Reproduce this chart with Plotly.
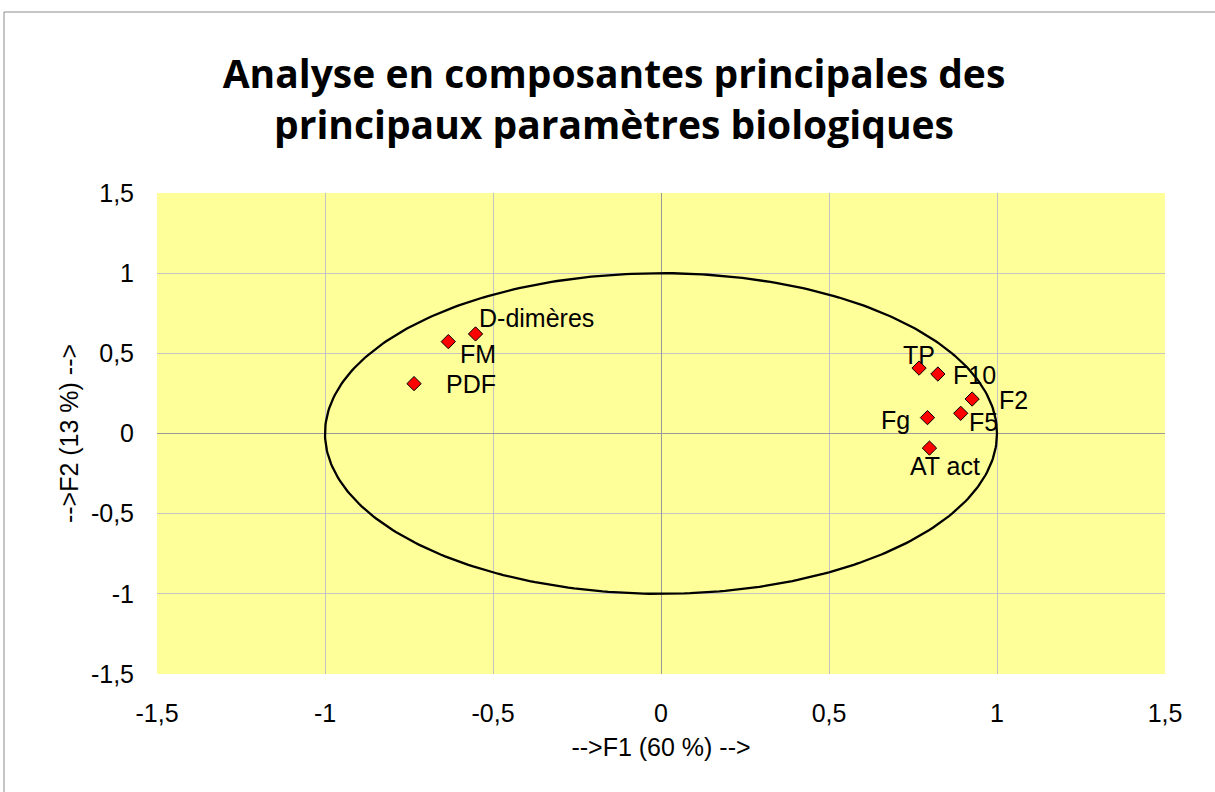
import numpy as np
import plotly.graph_objects as go

labels = ["D-dimères", "FM", "PDF", "TP", "F10", "F2", "F5", "Fg", "AT act"]
f1 = [-0.552, -0.633, -0.735, 0.768, 0.824, 0.926, 0.892, 0.793, 0.799]
f2 = [0.621, 0.573, 0.311, 0.408, 0.371, 0.215, 0.126, 0.099, -0.091]
tick_vals = [-1.5, -1, -0.5, 0, 0.5, 1, 1.5]
tick_text = ["-1,5", "-1", "-0,5", "0", "0,5", "1", "1,5"]

# label placement styling (pixel offsets from each marker)
label_style = [
    ("left", 1, 16), ("left", 10, -12), ("left", 30, 0), ("center", 0, 13),
    ("left", 13, -1), ("left", 25, -1), ("left", 6, -9), ("right", -15, -2),
    ("center", 16, -18),
]

FONT = "Liberation Sans, Arial, sans-serif"
W, H = 1215, 792
L, T, R, B = 157, 193, 50, 118

theta = np.linspace(0, 2 * np.pi, 361)
fig = go.Figure()
fig.add_trace(go.Scatter(x=np.cos(theta), y=np.sin(theta), mode="lines",
                         line=dict(color="black", width=2.3), hoverinfo="skip"))
fig.add_trace(go.Scatter(x=f1, y=f2, mode="markers",
                         marker=dict(symbol="diamond", size=11, color="#FF0000",
                                     line=dict(color="black", width=1))))

annotations = []
for lab, xv, yv, (anc, dx, dy) in zip(labels, f1, f2, label_style):
    annotations.append(dict(x=xv, y=yv, xref="x", yref="y", text=lab, showarrow=False,
                            xanchor=anc, yanchor="middle", xshift=dx, yshift=dy,
                            font=dict(family=FONT, size=25, color="black")))

axis_common = dict(range=[-1.5, 1.5], tickvals=tick_vals, ticktext=tick_text,
                   showgrid=True, gridcolor="#C4C4C4", gridwidth=1,
                   zeroline=True, zerolinecolor="#9A9A9A", zerolinewidth=1,
                   showline=False, ticks="outside", ticklen=17, tickcolor="rgba(0,0,0,0)",
                   tickfont=dict(family=FONT, size=25, color="black"),
                   title_font=dict(family=FONT, size=25, color="black"),
                   fixedrange=True)

pw, ph = W - L - R, H - T - B
fig.update_layout(
    width=W, height=H,
    margin=dict(l=L, r=R, t=T, b=B),
    paper_bgcolor="white", plot_bgcolor="#FFFF99",
    showlegend=False,
    annotations=annotations,
    title=dict(text="<b>Analyse en composantes principales des<br>principaux paramètres biologiques</b>",
               x=614 / W, xanchor="center", xref="container",
               y=1 - 88 / H, yanchor="top", yref="container",
               font=dict(family="Open Sans, Liberation Sans", size=39, color="black")),
    xaxis=dict(title=dict(text="-->F1 (60 %) -->", standoff=12), **axis_common),
    yaxis=dict(title=dict(text="-->F2 (13 %) -->", standoff=5), **axis_common),
    shapes=[dict(type="rect", xref="paper", yref="paper",
                 x0=(4 - L) / pw, x1=(1240 - L) / pw,
                 y0=-(810 - T - ph) / ph, y1=(T + ph - 12) / ph,
                 line=dict(color="#8C8C8C", width=1), layer="below")],
)

fig.write_html("out.html", config={"displayModeBar": False},
               post_script="document.body.style.margin='0';")
